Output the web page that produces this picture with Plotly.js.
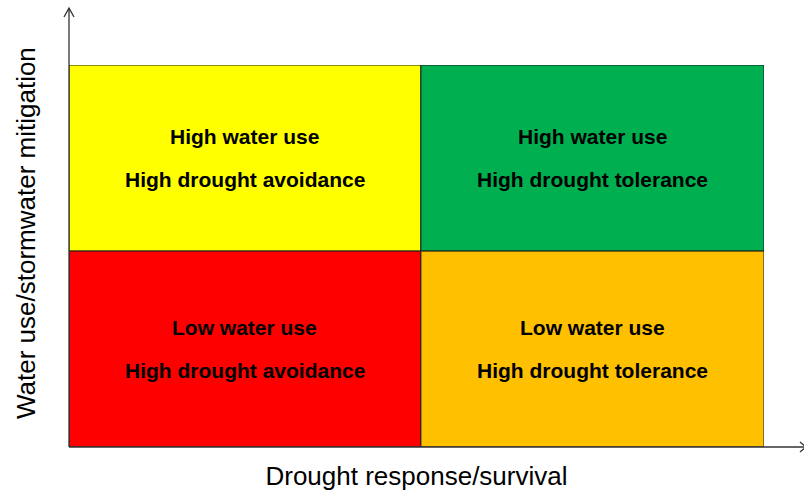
<!DOCTYPE html>
<html>
<head>
<meta charset="utf-8">
<script src="https://cdn.plot.ly/plotly-3.0.1.min.js"></script>
<style>html,body{margin:0;padding:0;background:#fff;}#chart{width:804px;height:499px;}</style>
</head>
<body>
<div id="chart"></div>
<script>
// Quadrant data: x = drought response/survival, y = water use
const quadX = [0, 1, 0, 1];            // start of each quadrant along x
const quadW = [1, 0.975, 1, 0.975];    // width of each quadrant along x
const quadY = [1, 1, 0, 0];            // base of each quadrant along y
const quadH = [0.95, 0.95, 1, 1];      // height of each quadrant along y
const quadColors = ['#FFFF00', '#00B050', '#FF0000', '#FFC000'];
const waterUse = ['High water use', 'High water use', 'Low water use', 'Low water use'];
const droughtStrategy = ['High drought avoidance', 'High drought tolerance', 'High drought avoidance', 'High drought tolerance'];
const xTitle = 'Drought response/survival';
const yTitle = 'Water use/stormwater mitigation';

const FONT = '"Liberation Sans", Arial, sans-serif';

const trace = {
  type: 'bar',
  x: quadX,
  y: quadH,
  base: quadY,
  width: quadW,
  offset: 0,
  marker: {color: quadColors, line: {color: '#1a1a1a', width: 1}},
  hoverinfo: 'skip',
  showlegend: false
};

const annotations = [];
for (let i = 0; i < quadX.length; i++) {
  const cx = quadX[i] + quadW[i] / 2;
  const cy = quadY[i] + quadH[i] / 2;
  annotations.push({x: cx, y: cy, xref: 'x', yref: 'y', text: '<b>' + waterUse[i] + '</b>',
    showarrow: false, yshift: 22, font: {family: FONT, size: 21, color: '#000'}});
  annotations.push({x: cx, y: cy, xref: 'x', yref: 'y', text: '<b>' + droughtStrategy[i] + '</b>',
    showarrow: false, yshift: -21, font: {family: FONT, size: 21, color: '#000'}});
}
annotations.push({x: -0.062, y: 0.56, xref: 'paper', yref: 'paper', text: yTitle, textangle: -90,
  showarrow: false, xanchor: 'center', yanchor: 'middle', font: {family: FONT, size: 26, color: '#000'}});

const ln = {color: '#333', width: 1.3};
const shapes = [
  {type: 'line', xref: 'paper', yref: 'paper', x0: 0, y0: 0, x1: 0, y1: 1.149, line: ln},
  {type: 'path', xref: 'paper', yref: 'paper', path: 'M -0.0072 1.1257 L 0 1.149 L 0.0072 1.1257', line: ln},
  {type: 'line', xref: 'paper', yref: 'paper', x0: 0, y0: 0, x1: 1.06, y1: 0, line: ln},
  {type: 'path', xref: 'paper', yref: 'paper', path: 'M 1.0518 0.0131 L 1.0604 0 L 1.0518 -0.0131', line: ln}
];

const layout = {
  width: 804, height: 499,
  margin: {l: 69, r: 40, t: 65, b: 52, pad: 0},
  paper_bgcolor: '#fff', plot_bgcolor: '#fff',
  font: {family: FONT},
  xaxis: {range: [0, 1.975], showgrid: false, zeroline: false, showticklabels: false, ticks: '',
    showline: false, fixedrange: true,
    title: {text: xTitle, standoff: 19, font: {family: FONT, size: 26, color: '#000'}}},
  yaxis: {range: [0, 1.95], showgrid: false, zeroline: false, showticklabels: false, ticks: '',
    showline: false, fixedrange: true},
  bargap: 0,
  annotations: annotations,
  shapes: shapes
};

Plotly.newPlot('chart', [trace], layout, {displayModeBar: false, staticPlot: true});
</script>
</body>
</html>
